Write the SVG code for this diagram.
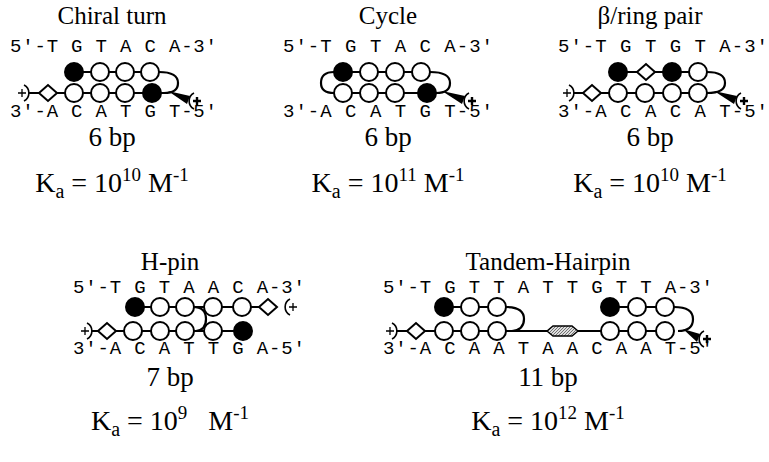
<svg xmlns="http://www.w3.org/2000/svg" width="769" height="462" viewBox="0 0 769 462">
<style>
.t{font-family:"Liberation Serif",serif;font-size:25px;text-anchor:middle;fill:#000}
.b{font-family:"Liberation Serif",serif;font-size:27px;text-anchor:middle;fill:#000}
.k{font-family:"Liberation Serif",serif;font-size:28px;text-anchor:middle;fill:#000}
.s{font-family:"Liberation Mono",monospace;font-size:19px;fill:#000}
.o{fill:#fff;stroke:#000;stroke-width:2}
.f{fill:#000;stroke:#000;stroke-width:2}
.ln{fill:none;stroke:#000;stroke-width:2.2}
</style>
<defs>
<pattern id="h" width="3" height="3" patternUnits="userSpaceOnUse"><rect width="3" height="3" fill="#ddd"/><path d="M0,3 L3,0" stroke="#555" stroke-width="0.8"/></pattern>
<path id="dm" d="M-9,0 L0,-8 L9,0 L0,8Z" class="o"/>
<g id="pl"><path d="M-4,0 H4 M0,-4 V4" stroke="#000" stroke-width="1.3"/><path d="M2,-8 A9,9 0 0 1 2,8" fill="none" stroke="#000" stroke-width="1.6"/></g>
<g id="pr"><path d="M-3,0 H5 M1,-4 V4" stroke="#000" stroke-width="2.4"/><path d="M-2,-8 A9,9 0 0 0 -2,8" fill="none" stroke="#000" stroke-width="1.6"/></g>
</defs>
<g id="connectors">
<path class="ln" d="M74,72 H150 M29,93 H165 M159,72 Q178,72 178,83 Q178,93 164,93"/>
<path d="M168,91 L190,96 L187,104Z" fill="#000"/>
<path class="ln" d="M343,72 H421 M343,93 H421 M334,72 Q321,72 321,83 Q321,93 334,93 M430,72 Q450,72 450,83 Q450,93 436,93"/>
<path d="M442,91 L465,96 L462,104Z" fill="#000"/>
<path class="ln" d="M618,72 H698 M574,93 H698 M707,72 Q725,72 725,83 Q725,93 707,93"/>
<path d="M714,91 L737,96 L734,104Z" fill="#000"/>
<path class="ln" d="M135,307 H277 M92,331 H243 M193,307 Q206,307 206,319 Q206,330 196,331"/>
<path class="ln" d="M444,307 H497 M397,331 H608 M506,307 Q524,307 524,319 Q524,330 512,331 M610,307 H665 M608,331 H665 M674,307 Q693,307 693,319 Q693,331 678,331"/>
<path d="M683,329 L700,334 L697,342Z" fill="#000"/>
</g>
<g id="chiral">
<text class="t" x="112" y="24">Chiral turn</text>
<text class="s" x="10" y="52" textLength="207" xml:space="preserve">5′-T G T A C A-3′</text>
<use href="#pl" x="22" y="93"/><use href="#dm" x="48" y="93"/>
<circle class="f" cx="74" cy="72" r="9"/><circle class="o" cx="100" cy="72" r="9"/><circle class="o" cx="125" cy="72" r="9"/><circle class="o" cx="150" cy="72" r="9"/>
<circle class="o" cx="74" cy="93" r="9"/><circle class="o" cx="100" cy="93" r="9"/><circle class="o" cx="125" cy="93" r="9"/><circle class="f" cx="152" cy="93" r="9"/>
<use href="#pr" x="196" y="101"/>
<text class="s" x="10" y="117" textLength="207" xml:space="preserve">3′-A C A T G T-5′</text>
<text class="b" x="112" y="146">6 bp</text>
<text class="k" x="112" y="192">K<tspan font-size="20" dy="6">a</tspan><tspan dy="-6"> = 10</tspan><tspan font-size="19" dy="-11">10</tspan><tspan dy="11"> M</tspan><tspan font-size="19" dy="-11">-1</tspan></text>
</g>
<g id="cycle">
<text class="t" x="388" y="24">Cycle</text>
<text class="s" x="283" y="52" textLength="210" xml:space="preserve">5′-T G T A C A-3′</text>
<circle class="f" cx="343" cy="72" r="9"/><circle class="o" cx="369" cy="72" r="9"/><circle class="o" cx="395" cy="72" r="9"/><circle class="o" cx="421" cy="72" r="9"/>
<circle class="o" cx="343" cy="93" r="9"/><circle class="o" cx="369" cy="93" r="9"/><circle class="o" cx="395" cy="93" r="9"/><circle class="f" cx="427" cy="93" r="9"/>
<use href="#pr" x="471" y="101"/>
<text class="s" x="283" y="117" textLength="210" xml:space="preserve">3′-A C A T G T-5′</text>
<text class="b" x="388" y="146">6 bp</text>
<text class="k" x="388" y="192">K<tspan font-size="20" dy="6">a</tspan><tspan dy="-6"> = 10</tspan><tspan font-size="19" dy="-11">11</tspan><tspan dy="11"> M</tspan><tspan font-size="19" dy="-11">-1</tspan></text>
</g>
<g id="bring">
<text class="t" x="650" y="24">β/ring pair</text>
<text class="s" x="558" y="52" textLength="210" xml:space="preserve">5′-T G T G T A-3′</text>
<use href="#pl" x="567" y="93"/><use href="#dm" x="592" y="93"/>
<circle class="f" cx="618" cy="72" r="9"/><use href="#dm" x="646" y="72"/><circle class="f" cx="672" cy="72" r="9"/><circle class="o" cx="698" cy="72" r="9"/>
<circle class="o" cx="618" cy="93" r="9"/><circle class="o" cx="645" cy="93" r="9"/><circle class="o" cx="672" cy="93" r="9"/><circle class="o" cx="698" cy="93" r="9"/>
<use href="#pr" x="743" y="101"/>
<text class="s" x="558" y="117" textLength="210" xml:space="preserve">3′-A C A C A T-5′</text>
<text class="b" x="650" y="146">6 bp</text>
<text class="k" x="650" y="192">K<tspan font-size="20" dy="6">a</tspan><tspan dy="-6"> = 10</tspan><tspan font-size="19" dy="-11">10</tspan><tspan dy="11"> M</tspan><tspan font-size="19" dy="-11">-1</tspan></text>
</g>
<g id="hpin">
<text class="t" x="170" y="270">H-pin</text>
<text class="s" x="73" y="293" textLength="232" xml:space="preserve">5′-T G T A A C A-3′</text>
<circle class="f" cx="135" cy="307" r="9"/><circle class="o" cx="160" cy="307" r="9"/><circle class="o" cx="185" cy="307" r="9"/><circle class="o" cx="213" cy="307" r="9"/><circle class="o" cx="242" cy="307" r="9"/><use href="#dm" x="268" y="307"/>
<g transform="translate(292,307)"><path d="M-3,0 H5 M1,-4 V4" stroke="#000" stroke-width="1.3"/><path d="M-2,-8 A9,9 0 0 0 -2,8" fill="none" stroke="#000" stroke-width="1.6"/></g>
<use href="#pl" x="85" y="331"/><use href="#dm" x="107" y="331"/>
<circle class="o" cx="133" cy="331" r="9"/><circle class="o" cx="160" cy="331" r="9"/><circle class="o" cx="185" cy="331" r="9"/><circle class="o" cx="213" cy="331" r="9"/><circle class="f" cx="243" cy="331" r="9"/>
<text class="s" x="73" y="354" textLength="232" xml:space="preserve">3′-A C A T T G A-5′</text>
<text class="b" x="170" y="386">7 bp</text>
<text class="k" x="170" y="430">K<tspan font-size="20" dy="6">a</tspan><tspan dy="-6"> = 10</tspan><tspan font-size="19" dy="-11">9</tspan><tspan dy="11" xml:space="preserve">   M</tspan><tspan font-size="19" dy="-11">-1</tspan></text>
</g>
<g id="tandem">
<text class="t" x="548" y="270">Tandem-Hairpin</text>
<text class="s" x="383" y="293" textLength="330" xml:space="preserve">5′-T G T T A T T G T T A-3′</text>
<use href="#pl" x="390" y="331"/><use href="#dm" x="416" y="331"/>
<circle class="f" cx="444" cy="307" r="9"/><circle class="o" cx="470" cy="307" r="9"/><circle class="o" cx="497" cy="307" r="9"/>
<circle class="o" cx="444" cy="331" r="9"/><circle class="o" cx="470" cy="331" r="9"/><circle class="o" cx="497" cy="331" r="9"/>
<path d="M547,331 L553,326 H572 L578,331 L572,336 H553Z" fill="url(#h)" stroke="#000" stroke-width="1.4"/>
<circle class="f" cx="610" cy="307" r="9"/><circle class="o" cx="637" cy="307" r="9"/><circle class="o" cx="665" cy="307" r="9"/>
<circle class="o" cx="610" cy="331" r="9"/><circle class="o" cx="637" cy="331" r="9"/><circle class="o" cx="665" cy="331" r="9"/>
<use href="#pr" x="706" y="339"/>
<text class="s" x="383" y="354" textLength="330" xml:space="preserve">3′-A C A A T A A C A A T-5′</text>
<text class="b" x="548" y="386">11 bp</text>
<text class="k" x="548" y="430">K<tspan font-size="20" dy="6">a</tspan><tspan dy="-6"> = 10</tspan><tspan font-size="19" dy="-11">12</tspan><tspan dy="11"> M</tspan><tspan font-size="19" dy="-11">-1</tspan></text>
</g>
</svg>
